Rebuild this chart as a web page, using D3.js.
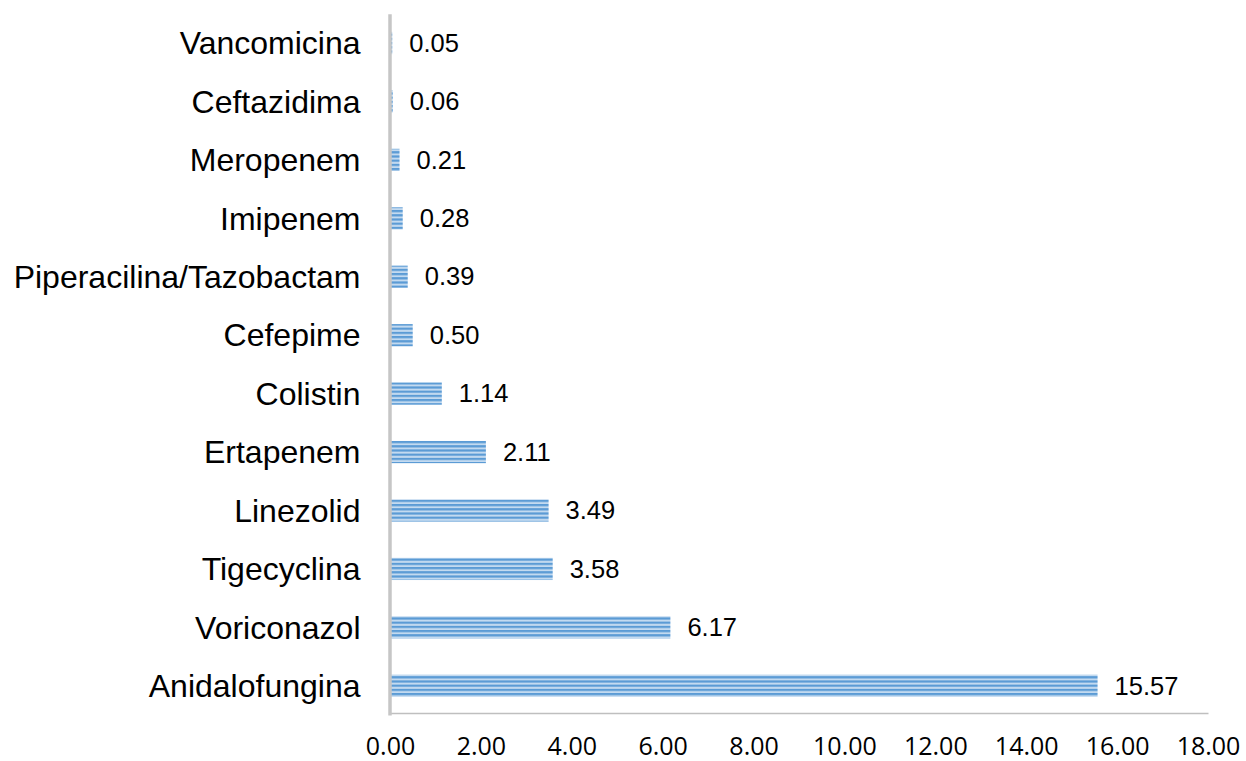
<!DOCTYPE html>
<html>
<head>
<meta charset="utf-8">
<script src="https://cdn.jsdelivr.net/npm/d3@7/dist/d3.min.js"></script>
<style>
  html, body { margin: 0; padding: 0; background: #ffffff; }
  svg { display: block; }
</style>
</head>
<body>
<svg id="chart" width="1246" height="761"></svg>
<script>
// Antimicrobial values, listed top to bottom
const drugs = ["Vancomicina", "Ceftazidima", "Meropenem", "Imipenem",
  "Piperacilina/Tazobactam", "Cefepime", "Colistin", "Ertapenem",
  "Linezolid", "Tigecyclina", "Voriconazol", "Anidalofungina"];
const values = [0.05, 0.06, 0.21, 0.28, 0.39, 0.50, 1.14, 2.11, 3.49, 3.58, 6.17, 15.57];
const xTicks = [0, 2, 4, 6, 8, 10, 12, 14, 16, 18];

const svg = d3.select("#chart");
const plotLeft = 390, plotRight = 1208, plotTop = 13.8, plotBottom = 715;

const x = d3.scaleLinear().domain([0, 18]).range([plotLeft, plotRight]);
const y = d3.scaleBand().domain(drugs).range([plotTop, plotBottom]).paddingInner(0.62).paddingOuter(0.31);

// Narrow horizontal stripe fill for the bars
const defs = svg.append("defs");
const pat = defs.append("pattern")
  .attr("id", "stripes").attr("patternUnits", "userSpaceOnUse")
  .attr("width", 8).attr("height", 4.2);
pat.append("rect").attr("width", 8).attr("height", 4.2).attr("fill", "#c3daf0");
pat.append("rect").attr("width", 8).attr("height", 2.2).attr("fill", "#5b9bd5");

// Bars
svg.append("g").selectAll("rect").data(values).join("rect")
  .attr("x", x(0))
  .attr("y", (d, i) => y(drugs[i]))
  .attr("width", d => x(d) - x(0))
  .attr("height", y.bandwidth())
  .attr("fill", "url(#stripes)");

// Value labels
svg.append("g").selectAll("text").data(values).join("text")
  .attr("x", d => x(d) + 17)
  .attr("y", (d, i) => y(drugs[i]) + y.bandwidth() / 2 + 2)
  .attr("dominant-baseline", "middle")
  .attr("font-family", "Liberation Sans, Arial, sans-serif")
  .attr("font-size", 25.5)
  .attr("fill", "#000")
  .text(d => d.toFixed(2));

// Bottom axis line and tick labels
const xAxis = d3.axisBottom(x).tickValues(xTicks).tickSize(0).tickPadding(0)
  .tickFormat(d => d.toFixed(2));
const gx = svg.append("g").attr("transform", `translate(0,${plotBottom - 2})`).call(xAxis);
gx.select(".domain").attr("stroke", "#bfbfbf").attr("stroke-width", 1.5);
gx.selectAll("text")
  .attr("y", 42)
  .attr("dy", null)
  .attr("font-family", "Open Sans, sans-serif")
  .attr("font-size", 25)
  .attr("fill", "#000");

// Category axis
const yAxis = d3.axisLeft(y).tickSize(0).tickPadding(29);
const gy = svg.append("g").attr("transform", `translate(${plotLeft - 0.5},0)`).call(yAxis);
gy.select(".domain").attr("stroke", "#c6c6c6").attr("stroke-width", 3.5);
gy.selectAll("text")
  .attr("dy", "0.35em")
  .attr("font-family", "Liberation Sans, Arial, sans-serif")
  .attr("font-size", 32)
  .attr("fill", "#000");
</script>
</body>
</html>
